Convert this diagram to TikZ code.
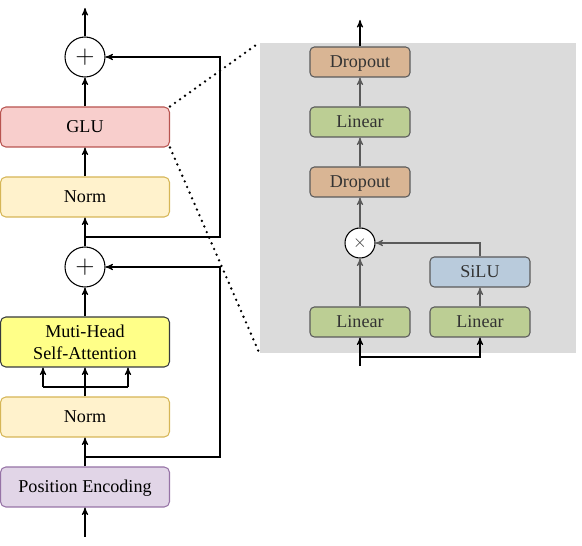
\documentclass[tikz,border=0pt]{standalone}
\usepackage{fontspec}
\setmainfont{Liberation Serif}
\usetikzlibrary{arrows}

\definecolor{glufill}{RGB}{248,206,204}
\definecolor{gludraw}{RGB}{184,84,80}
\definecolor{normfill}{RGB}{255,242,204}
\definecolor{normdraw}{RGB}{214,182,86}
\definecolor{attfill}{RGB}{255,255,136}
\definecolor{attdraw}{RGB}{54,57,61}
\definecolor{pefill}{RGB}{225,213,231}
\definecolor{pedraw}{RGB}{150,115,166}
\definecolor{panelgray}{RGB}{219,219,219}
\definecolor{dropfill}{RGB}{217,181,148}
\definecolor{linfill}{RGB}{188,206,148}
\definecolor{silufill}{RGB}{185,203,220}
\definecolor{innerdraw}{RGB}{90,90,90}
\definecolor{innertext}{RGB}{51,51,51}

\begin{document}
\begin{tikzpicture}[x=0.02cm, y=-0.02cm, line width=0.6pt,
	font=\fontsize{10.3}{12.5}\selectfont,
	bigbox/.style={rectangle, rounded corners=3pt, minimum width=3.38cm, minimum height=0.8cm, inner sep=1pt, text depth=0.5pt},
	smallbox/.style={rectangle, rounded corners=2.5pt, draw=innerdraw, text=innertext, minimum width=2cm, minimum height=0.6cm, inner sep=1pt, text depth=0.5pt},
	sumnode/.style={circle, draw, fill=white, inner sep=0pt},
	zoomline/.style={line width=1.5pt, line cap=round, dash pattern=on 0pt off 3.5pt}]
	\useasboundingbox (0,0) rectangle (582,546);

	% left column
	\node (pe) at (85,487) [bigbox, draw=pedraw, fill=pefill] {Position Encoding};
	\node (norm1) at (85,417) [bigbox, draw=normdraw, fill=normfill] {Norm};
	\node (mhsa) at (85,342) [bigbox, draw=attdraw, fill=attfill, minimum height=1cm, align=center, text depth=] {Muti-Head\\Self-Attention};
	\node (plus1) at (85,267) [sumnode, minimum size=0.8cm] {\Large$+$};
	\node (norm2) at (85,197) [bigbox, draw=normdraw, fill=normfill] {Norm};
	\node (glu) at (85,127) [bigbox, draw=gludraw, fill=glufill] {GLU};
	\node (plus2) at (85,57) [sumnode, minimum size=0.8cm] {\Large$+$};

	\coordinate (in1) at (85,537);
	\coordinate (out1) at (85,8);
	\coordinate (j1) at (85,457);
	\coordinate (r1) at (220,457);
	\coordinate (r1t) at (220,267);
	\coordinate (j2) at (85,237);
	\coordinate (r2) at (220,237);
	\coordinate (r2t) at (220,57);

	\draw[-stealth'] (in1) -- (pe);
	\draw[-stealth'] (pe) -- (norm1);
	\draw[-stealth'] (j1) -- (r1) -- (r1t) -- (plus1);
	\foreach \x/\n in {43/a,85/b,128/c} {
		\coordinate (q\n) at (\x,387);
		\draw[-stealth'] (q\n) -- (q\n |- mhsa.south);
	}
	\draw (norm1) -- (qb);
	\draw (qa) -- (qc);
	\draw[-stealth'] (mhsa) -- (plus1);
	\draw[-stealth'] (plus1) -- (norm2);
	\draw[-stealth'] (j2) -- (r2) -- (r2t) -- (plus2);
	\draw[-stealth'] (norm2) -- (glu);
	\draw[-stealth'] (glu) -- (plus2);
	\draw[-stealth'] (plus2) -- (out1);

	% GLU detail
	\node (panel) at (418,198) [fill=panelgray, minimum width=6.32cm, minimum height=6.2cm] {};
	\draw[zoomline] (glu.north east) -- (panel.north west);
	\draw[zoomline] (glu.south east) -- (panel.south west);

	\node (linA) at (360,322) [smallbox, fill=linfill] {Linear};
	\node (linB) at (480,322) [smallbox, fill=linfill] {Linear};
	\node (silu) at (480,272) [smallbox, fill=silufill] {SiLU};
	\node (mul) at (360,243) [sumnode, draw=black, minimum size=0.6cm, text=innertext] {$\times$};
	\node (drop1) at (360,182) [smallbox, fill=dropfill] {Dropout};
	\node (lin2) at (360,122) [smallbox, fill=linfill] {Linear};
	\node (drop2) at (360,62) [smallbox, fill=dropfill] {Dropout};

	\coordinate (in2) at (360,366);
	\coordinate (jb) at (360,357);
	\coordinate (out2) at (360,20);

	\draw[-stealth'] (in2) -- (linA);
	\draw[-stealth'] (jb) -| (linB);
	\draw[-stealth', innerdraw] (linB) -- (silu);
	\draw[-stealth', innerdraw] (silu) |- (mul);
	\draw[-stealth', innerdraw] (linA) -- (mul);
	\draw[-stealth', innerdraw] (mul) -- (drop1);
	\draw[-stealth', innerdraw] (drop1) -- (lin2);
	\draw[-stealth', innerdraw] (lin2) -- (drop2);
	\draw[-stealth'] (drop2) -- (out2);
\end{tikzpicture}
\end{document}
